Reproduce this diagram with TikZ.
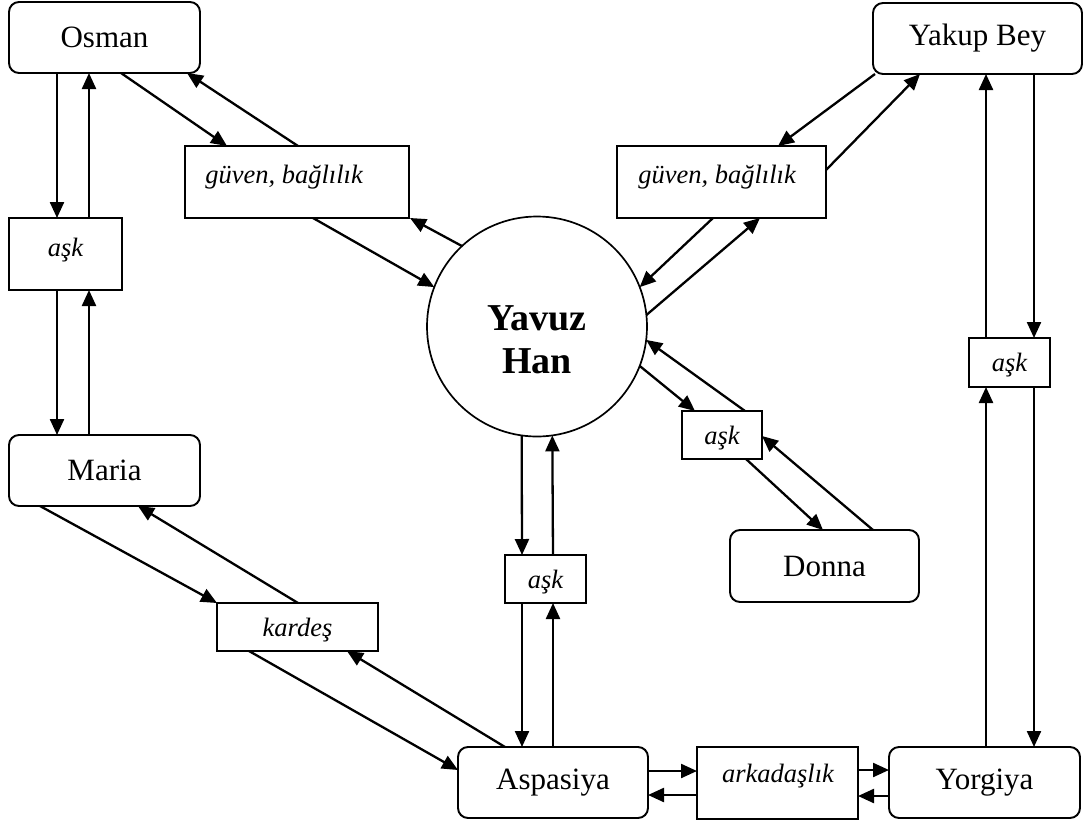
\documentclass[tikz,border=0pt]{standalone}
\usepackage{fontspec}
\setmainfont{Liberation Serif}
\usetikzlibrary{arrows.meta}
\begin{document}
\begin{tikzpicture}[x=1pt,y=-1pt,
  namebox/.style={draw, line width=1.9pt, rounded corners=10pt, inner sep=0pt, outer sep=0pt, font=\fontsize{31}{36}\selectfont},
  labelbox/.style={draw, line width=1.9pt, inner sep=0pt, outer sep=0pt, font=\itshape\fontsize{26.5}{30}\selectfont, text depth=0pt},
  labeltext/.style={inner sep=0pt, anchor=base, font=\itshape\fontsize{26.5}{30}\selectfont},
  bigtext/.style={inner sep=0pt, anchor=base, font=\bfseries\fontsize{38}{43}\selectfont},
  arr/.style={line width=2.3pt, -{Triangle[length=16pt,width=14pt]}}]
\useasboundingbox (0,0) rectangle (1088,823);
% name boxes
\node[namebox, minimum width=191pt, minimum height=71pt] (osman) at (104.5,37.5) {Osman};
\node[namebox, minimum width=209pt, minimum height=71pt] (yakup) at (977.5,38.5) {Yakup Bey};
\node[namebox, minimum width=191pt, minimum height=71pt] (maria) at (104.5,470.5) {Maria};
\node[namebox, minimum width=190pt, minimum height=71pt] (aspasiya) at (553,782.5) {Aspasiya};
\node[namebox, minimum width=191pt, minimum height=71pt] (yorgiya) at (984.5,782.5) {Yorgiya};
\node[namebox, minimum width=189pt, minimum height=72pt] (donna) at (824.5,566) {Donna};
% label boxes
\node[labelbox, minimum width=224pt, minimum height=72pt] (guvenL) at (297,182) {};
\node[labeltext] (guvenLt) at (284,183) {güven, bağlılık};
\node[labelbox, minimum width=209pt, minimum height=72pt] (guvenR) at (721.5,182) {};
\node[labeltext] (guvenRt) at (717,183) {güven, bağlılık};
\node[labelbox, minimum width=161pt, minimum height=72pt] (arkadas) at (777.5,783) {};
\node[labeltext] (arkadast) at (778,782) {arkadaşlık};
\node[labelbox, minimum width=113pt, minimum height=72pt] (askL) at (65.5,254) {};
\node[labeltext] (askLt) at (65.5,256) {aşk};
\node[labelbox, minimum width=161pt, minimum height=48pt] (kardes) at (297.5,627) {kardeş};
\node[labelbox, minimum width=81pt, minimum height=48pt] (askM) at (545.5,579) {aşk};
\node[labelbox, minimum width=80pt, minimum height=48pt] (askRM) at (722,435) {aşk};
\node[labelbox, minimum width=81pt, minimum height=49pt] (askR) at (1009.5,362.5) {aşk};
% centre circle
\node[circle, draw, line width=1.7pt, minimum size=220pt, inner sep=0pt, outer sep=0pt] (yavuz) at (537,326.5) {};
\node[bigtext] (yavuzA) at (537,330) {Yavuz};
\node[bigtext] (yavuzB) at (537,373) {Han};
% connectors
\draw[arr] ([xshift=48pt]osman.south west) -- ([xshift=48pt]askL.north west);
\draw[arr] ([xshift=80pt]askL.north west) -- ([xshift=80pt]osman.south west);
\draw[arr] ([xshift=48pt]askL.south west) -- ([xshift=48pt]maria.north west);
\draw[arr] ([xshift=80pt]maria.north west) -- ([xshift=80pt]askL.south west);
\draw[arr] ([xshift=112pt]osman.south west) -- ([xshift=42pt]guvenL.north west);
\draw[arr] ([xshift=113pt]guvenL.north west) -- ([xshift=178pt]osman.south west);
\draw[arr] ([xshift=128pt]guvenL.south west) -- (yavuz.159.7);
\draw[arr] (yavuz.133) -- ([xshift=1pt]guvenL.south east);
\draw[arr] ([xshift=2pt]yakup.south west) -- ([xshift=161pt]guvenR.north west);
\draw[arr] ([yshift=-24pt]guvenR.north east) -- ([xshift=47pt]yakup.south west);
\draw[arr] ([xshift=96pt]guvenR.south west) -- (yavuz.21);
\draw[arr] (yavuz.6) -- ([xshift=143pt]guvenR.south west);
\draw[arr] (yavuz.339) -- ([xshift=13pt]askRM.north west);
\draw[arr] ([xshift=63pt]askRM.north west) -- (yavuz.353);
\draw[arr] ([xshift=64pt]askRM.south west) -- ([xshift=93pt]donna.north west);
\draw[arr] ([xshift=143pt]donna.north west) -- ([yshift=-25pt]askRM.north east);
\draw[arr] (yavuz.262) -- ([xshift=17pt]askM.north west);
\draw[arr] ([xshift=48pt]askM.north west) -- (yavuz.278);
\draw[arr] ([xshift=17pt]askM.south west) -- ([xshift=64pt]aspasiya.north west);
\draw[arr] ([xshift=95pt]aspasiya.north west) -- ([xshift=48pt]askM.south west);
\draw[arr] ([xshift=31pt]maria.south west) -- (kardes.north west);
\draw[arr] ([xshift=81pt]kardes.north west) -- ([xshift=129pt]maria.south west);
\draw[arr] ([xshift=32pt]kardes.south west) -- ([yshift=-23pt]aspasiya.north west);
\draw[arr] ([xshift=47pt]aspasiya.north west) -- ([xshift=-31pt]kardes.south east);
\draw[arr] ([yshift=-24pt]aspasiya.north east) -- ([yshift=-24pt]arkadas.north west);
\draw[arr] ([yshift=-48pt]arkadas.north west) -- ([yshift=-48pt]aspasiya.north east);
\draw[arr] ([yshift=-23pt]arkadas.north east) -- ([yshift=-23pt]yorgiya.north west);
\draw[arr] ([yshift=-49pt]yorgiya.north west) -- ([yshift=-49pt]arkadas.north east);
\draw[arr] ([xshift=97pt]yorgiya.north west) -- ([xshift=17pt]askR.south west);
\draw[arr] ([xshift=65pt]askR.south west) -- ([xshift=145pt]yorgiya.north west);
\draw[arr] ([xshift=161pt]yakup.south west) -- ([xshift=65pt]askR.north west);
\draw[arr] ([xshift=17pt]askR.north west) -- ([xshift=113pt]yakup.south west);
\end{tikzpicture}
\end{document}
